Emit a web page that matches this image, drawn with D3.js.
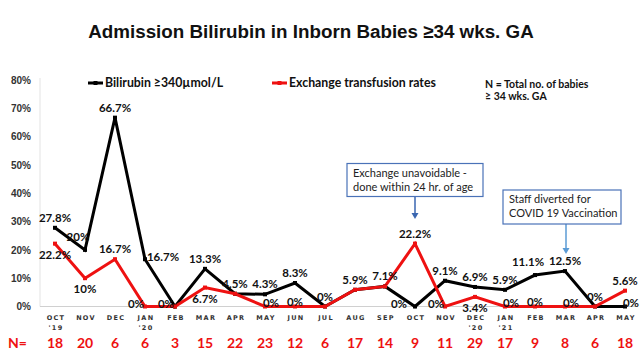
<!DOCTYPE html>
<html><head><meta charset="utf-8">
<script src="https://cdn.jsdelivr.net/npm/d3@7"></script>
<style>
body{margin:0;background:#fff;}
svg{display:block;}
</style></head>
<body><svg id="c" width="640" height="360"></svg>
<script>
const months = ["OCT","NOV","DEC","JAN","FEB","MAR","APR","MAY","JUN","JUL","AUG","SEP","OCT","NOV","DEC","JAN","FEB","MAR","APR","MAY"];
const years  = ["'19","","","'20","","","","","","","","","","","'20","'21","","","",""];
const bilirubin = [27.8,20,66.7,16.7,0,13.3,4.5,4.3,8.3,0,5.9,7.1,0,9.1,6.9,5.9,11.1,12.5,0,0];
const exchange  = [22.2,10,16.7,0,0,6.7,4.5,0,0,0,5.9,7.1,22.2,0,3.4,0,0,0,0,5.6];
const nBabies   = [18,20,6,6,3,15,22,23,12,6,17,14,9,11,29,17,9,8,6,18];
const bilLabels = ["27.8%","20%","66.7%","16.7%","","13.3%","4.5%","4.3%","8.3%","0%","5.9%","7.1%","0%","9.1%","6.9%","5.9%","11.1%","12.5%","0%","0%"];
const excLabels = ["22.2%","10%","16.7%","0%","0%","6.7%","","0%","0%","","","","22.2%","0%","3.4%","0%","0%","0%","","5.6%"];
const bilPlace  = ["a","al","a","r","","a","a","a","a","a","a","a","ll","a","a","a","al","a","a","ar"];
const excPlace  = ["b","b","a","l","l","b","","ar","as","","","","a","l","b","ar","as","ar","","a"];
const yTicks = [0,10,20,30,40,50,60,70,80];
const seriesNames = ["Bilirubin ≥340µmol/L","Exchange transfusion rates"];

const svg = d3.select("#c");
const idx = d3.range(months.length);
const x = d3.scaleBand().domain(idx).range([40,640]);
const cx = i => x(i) + x.bandwidth()/2;
const y = d3.scaleLinear().domain([0,80]).range([306.5,80]);
const RED = "#ee1111";

// title
svg.append("text").attr("x",311).attr("y",38).attr("text-anchor","middle")
  .attr("font-family","Liberation Sans, Arial, sans-serif").attr("font-weight","bold")
  .attr("font-size",18.8).attr("fill","#111").text("Admission Bilirubin in Inborn Babies ≥34 wks. GA");

// axes lines
svg.append("line").attr("x1",40).attr("x2",40).attr("y1",y(80)-2).attr("y2",y(0)).attr("stroke","#e3e3e3");
svg.append("line").attr("x1",40).attr("x2",638).attr("y1",y(0)).attr("y2",y(0)).attr("stroke","#d0d0d0");

// y axis labels
const ya = svg.append("g").attr("transform","translate(40,0)")
  .call(d3.axisLeft(y).tickValues(yTicks).tickSize(0).tickPadding(9).tickFormat(d=>d+"%"));
ya.select(".domain").remove();
ya.selectAll("text").attr("font-family","Liberation Sans, Arial, sans-serif").attr("font-weight","bold")
  .attr("font-size",10).attr("fill","#333");

// x labels
const xl = svg.append("g");
idx.forEach(i=>{
  const t = xl.append("text").attr("x",cx(i)+1).attr("y",320).attr("text-anchor","middle")
    .attr("font-family","DejaVu Sans, sans-serif").attr("font-weight","bold").attr("font-size",6.5)
    .attr("letter-spacing",1.3).attr("fill","#333");
  t.append("tspan").attr("x",cx(i)+1).text(months[i]);
  if(years[i]) t.append("tspan").attr("x",cx(i)+1).attr("dy",10).text(years[i]);
});

// N row
svg.append("text").attr("x",8).attr("y",348).attr("font-family","Lato, sans-serif").attr("font-weight","bold")
  .attr("font-size",14).attr("fill",RED).text("N=");
idx.forEach(i=>{
  svg.append("text").attr("x",cx(i)).attr("y",348).attr("text-anchor","middle")
    .attr("font-family","Lato, sans-serif").attr("font-weight","bold").attr("font-size",14)
    .attr("fill",RED).text(nBabies[i]);
});

// lines
const line = d3.line().x((d,i)=>cx(i)).y(d=>y(d));
svg.append("path").datum(bilirubin).attr("d",line).attr("fill","none").attr("stroke","#000").attr("stroke-width",3).attr("stroke-linejoin","miter");
svg.append("path").datum(exchange).attr("d",line).attr("fill","none").attr("stroke",RED).attr("stroke-width",3).attr("stroke-linejoin","miter");
svg.selectAll(".mb").data(bilirubin).enter().append("rect")
  .attr("x",(d,i)=>cx(i)-2).attr("y",d=>y(d)-2).attr("width",4).attr("height",4).attr("fill","#000");
svg.selectAll(".mr").data(exchange).enter().append("rect")
  .attr("x",(d,i)=>cx(i)-2).attr("y",d=>y(d)-2).attr("width",4).attr("height",4).attr("fill",RED);

// data labels
const off = {a:[0,-10],al:[-7,-13],ar:[6,-4],as:[0,-5],b:[0,11],l:[-9,-3],ll:[-16,-3],r:[18,-2]};
function labels(vals,labs,place){
  idx.forEach(i=>{
    if(!labs[i]) return;
    const o = off[place[i]];
    svg.append("text").attr("x",cx(i)+o[0]).attr("y",y(vals[i])+o[1]).attr("dy","0.35em")
      .attr("text-anchor","middle").attr("font-family","Lato, sans-serif").attr("font-weight","bold")
      .attr("font-size",11.5).attr("fill","#111").text(labs[i]);
  });
}
labels(bilirubin,bilLabels,bilPlace);
labels(exchange,excLabels,excPlace);

// legend
const lg = [[88,"#000"],[272,RED]];
lg.forEach((l,k)=>{
  svg.append("line").attr("x1",l[0]).attr("x2",l[0]+15).attr("y1",83).attr("y2",83).attr("stroke",l[1]).attr("stroke-width",3);
  svg.append("rect").attr("x",l[0]+5.5).attr("y",81).attr("width",4).attr("height",4).attr("fill",l[1]);
  svg.append("text").attr("x",l[0]+17).attr("y",87).attr("font-family","Lato, sans-serif").attr("font-weight","bold")
    .attr("font-size",12.3).attr("fill","#111").text(seriesNames[k]);
});
svg.append("text").attr("x",485).attr("y",88).attr("font-family","Lato, sans-serif").attr("font-weight","bold")
  .attr("font-size",10.5).attr("fill","#111").text("N = Total no. of babies");
svg.append("text").attr("x",485).attr("y",99.5).attr("font-family","Lato, sans-serif").attr("font-weight","bold")
  .attr("font-size",10.5).attr("fill","#111").text("≥ 34 wks. GA");

// annotations
function note(x0,y0,w,h,lines,ax,ay1,ay2,acol){
  svg.append("line").attr("x1",ax).attr("x2",ax).attr("y1",ay1).attr("y2",ay2-4).attr("stroke",acol).attr("stroke-width",1.5);
  svg.append("path").attr("d",`M${ax-3.5},${ay2-6}L${ax+3.5},${ay2-6}L${ax},${ay2}Z`).attr("fill",acol);
  svg.append("rect").attr("x",x0).attr("y",y0).attr("width",w).attr("height",h).attr("fill","#fff").attr("stroke","#4a72b8").attr("stroke-width",1.2);
  lines.forEach((t,k)=>{
    svg.append("text").attr("x",x0+6).attr("y",y0+13+k*14).attr("font-family","Lato, sans-serif")
      .attr("font-size",11).attr("fill","#222").text(t);
  });
}
note(347,163.5,136,33,["Exchange unavoidable -","done within 24 hr. of age"],cx(12),197,219,"#3a66b0");
note(503,190,118,34,["Staff diverted for","COVID 19 Vaccination"],cx(17)+1,224,254,"#5b9bd5");
</script></body></html>
